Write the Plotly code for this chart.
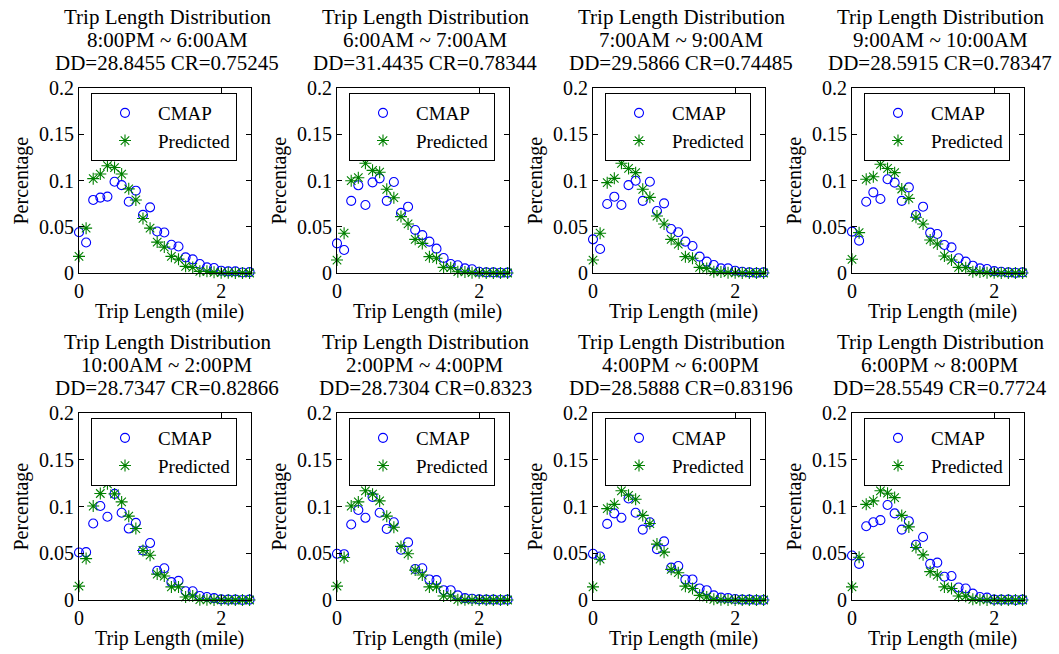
import plotly.graph_objects as go

W, H = 1059, 654

trip_length = [0.0, 0.1, 0.2, 0.3, 0.4, 0.5, 0.6, 0.7, 0.8, 0.9, 1.0, 1.1, 1.2,
               1.3, 1.4, 1.5, 1.6, 1.7, 1.8, 1.9, 2.0, 2.1, 2.2, 2.3, 2.4]

time_ranges = ["8:00PM ~ 6:00AM", "6:00AM ~ 7:00AM", "7:00AM ~ 9:00AM", "9:00AM ~ 10:00AM",
               "10:00AM ~ 2:00PM", "2:00PM ~ 4:00PM", "4:00PM ~ 6:00PM", "6:00PM ~ 8:00PM"]
dd_values = ["28.8455", "31.4435", "29.5866", "28.5915", "28.7347", "28.7304", "28.5888", "28.5549"]
cr_values = ["0.75245", "0.78344", "0.74485", "0.78347", "0.82866", "0.8323", "0.83196", "0.7724"]

cmap_8pm_6am = [0.044, 0.033, 0.079, 0.0815, 0.0826, 0.0987, 0.095, 0.077, 0.089, 0.0628, 0.071, 0.0449, 0.0438,
                0.0305, 0.0287, 0.0169, 0.0147, 0.0097, 0.0061, 0.0054, 0.0025, 0.0018, 0.0018, 0.0005, 0.001]
pred_8pm_6am = [0.018, 0.0485, 0.102, 0.107, 0.116, 0.114, 0.107, 0.091, 0.079, 0.059, 0.0485, 0.0334, 0.028,
                0.018, 0.015, 0.0072, 0.006, 0.0018, 0.0018, 0.0007, 0.0003, 0.0002, 0.0001, 0.0001, 0.0]

cmap_6am_7am = [0.032, 0.0249, 0.078, 0.0948, 0.0735, 0.098, 0.1023, 0.078, 0.0984, 0.065, 0.0717, 0.0465, 0.041,
                0.0339, 0.0263, 0.0162, 0.0097, 0.0083, 0.005, 0.004, 0.0014, 0.0007, 0.0007, 0.0002, 0.0004]
pred_6am_7am = [0.014, 0.043, 0.0998, 0.103, 0.1186, 0.111, 0.109, 0.0905, 0.0814, 0.061, 0.053, 0.0364, 0.032,
                0.0177, 0.0159, 0.0061, 0.0058, 0.0014, 0.0011, 0.0004, 0.0002, 0.0001, 0.0001, 0.0, 0.0]

cmap_7am_9am = [0.0364, 0.026, 0.0746, 0.0825, 0.0735, 0.095, 0.0998, 0.078, 0.0987, 0.067, 0.0753, 0.0476, 0.044,
                0.0339, 0.0292, 0.0177, 0.0123, 0.0086, 0.005, 0.005, 0.0025, 0.0014, 0.0007, 0.0002, 0.0007]
pred_7am_9am = [0.014, 0.043, 0.0977, 0.1023, 0.1186, 0.113, 0.1085, 0.0905, 0.0818, 0.0616, 0.053, 0.0364, 0.0313,
                0.0177, 0.0159, 0.0061, 0.005, 0.0014, 0.0011, 0.0004, 0.0002, 0.0001, 0.0001, 0.0, 0.0]

cmap_9am_10am = [0.0447, 0.035, 0.077, 0.0872, 0.08, 0.1013, 0.0977, 0.078, 0.0926, 0.0627, 0.0717, 0.0436, 0.0422,
                 0.0303, 0.0277, 0.0159, 0.0123, 0.0079, 0.005, 0.0043, 0.002, 0.0014, 0.0007, 0.0002, 0.0007]
pred_9am_10am = [0.0148, 0.0436, 0.1013, 0.104, 0.1175, 0.113, 0.1085, 0.0908, 0.0807, 0.0602, 0.053, 0.0357, 0.0313,
                 0.0184, 0.014, 0.0061, 0.0058, 0.0014, 0.0011, 0.0004, 0.0002, 0.0001, 0.0001, 0.0, 0.0]

cmap_10am_2pm = [0.0508, 0.0512, 0.0818, 0.1005, 0.089, 0.1135, 0.0933, 0.0764, 0.0825, 0.053, 0.0609, 0.0313, 0.0339,
                 0.0191, 0.0205, 0.0094, 0.0094, 0.0043, 0.0032, 0.002, 0.0007, 0.0004, 0.0004, 0.0, 0.0004]
pred_10am_2pm = [0.0148, 0.0443, 0.1005, 0.1139, 0.1243, 0.1135, 0.1049, 0.0897, 0.0764, 0.053, 0.0479, 0.0277, 0.0256,
                 0.014, 0.014, 0.0032, 0.0043, 0.0003, 0.0002, 0.0001, 0.0001, 0.0, 0.0, 0.0, 0.0]

cmap_2pm_4pm = [0.0494, 0.049, 0.0807, 0.0962, 0.0879, 0.1103, 0.0933, 0.076, 0.0832, 0.0537, 0.0616, 0.0332, 0.0339,
                0.022, 0.0213, 0.0105, 0.0105, 0.005, 0.002, 0.0014, 0.0007, 0.0004, 0.0004, 0.0, 0.0004]
pred_2pm_4pm = [0.0148, 0.0454, 0.1005, 0.1049, 0.1168, 0.1132, 0.106, 0.0897, 0.0778, 0.0573, 0.0494, 0.032, 0.0267,
                0.014, 0.014, 0.0043, 0.0043, 0.0003, 0.0002, 0.0001, 0.0001, 0.0, 0.0, 0.0, 0.0]

cmap_4pm_6pm = [0.0494, 0.0465, 0.0814, 0.0926, 0.0879, 0.1085, 0.0933, 0.0753, 0.0832, 0.0544, 0.0627, 0.0346, 0.0364,
                0.022, 0.022, 0.0123, 0.0105, 0.005, 0.0025, 0.0022, 0.0011, 0.0004, 0.0004, 0.0, 0.0]
pred_4pm_6pm = [0.014, 0.0436, 0.0977, 0.1023, 0.1168, 0.112, 0.1077, 0.0905, 0.0818, 0.0598, 0.0512, 0.0328, 0.0292,
                0.0148, 0.0123, 0.005, 0.0032, 0.0007, 0.0003, 0.0001, 0.0001, 0.0, 0.0, 0.0, 0.0]

cmap_6pm_8pm = [0.0476, 0.0386, 0.0789, 0.0832, 0.0854, 0.1016, 0.0926, 0.0753, 0.0843, 0.0591, 0.0674, 0.0386, 0.04,
                0.0249, 0.0256, 0.0133, 0.0123, 0.0068, 0.0032, 0.0025, 0.0004, 0.0004, 0.0004, 0.0, 0.0004]
pred_6pm_8pm = [0.014, 0.0458, 0.1023, 0.106, 0.1168, 0.1142, 0.1095, 0.0905, 0.0782, 0.0562, 0.0483, 0.0303, 0.0267,
                0.014, 0.0123, 0.0043, 0.004, 0.0007, 0.0003, 0.0001, 0.0001, 0.0, 0.0, 0.0, 0.0]

cmap_series = [cmap_8pm_6am, cmap_6am_7am, cmap_7am_9am, cmap_9am_10am,
               cmap_10am_2pm, cmap_2pm_4pm, cmap_4pm_6pm, cmap_6pm_8pm]
pred_series = [pred_8pm_6am, pred_6am_7am, pred_7am_9am, pred_9am_10am,
               pred_10am_2pm, pred_2pm_4pm, pred_4pm_6pm, pred_6pm_8pm]

y_ticks = [0, 0.05, 0.1, 0.15, 0.2]
y_ticktext = ["0", "0.05", "0.1", "0.15", "0.2"]
x_ticks = [0, 2]
x_ticktext = ["0", "2"]

FONT = "Liberation Serif"
FS = 20

# layout in pixels
col_left = [79, 337, 593, 852]
ax_w = 172
row_top = [88, 413]
row_bot = [273, 600]

fig = go.Figure()
annotations = []

def px_x(p):
    return p / W

def px_y(p):
    return 1 - p / H

for i in range(8):
    r, c = divmod(i, 4)
    n = i + 1
    xa = "x" if n == 1 else f"x{n}"
    ya = "y" if n == 1 else f"y{n}"
    lg = "legend" if n == 1 else f"legend{n}"
    L = col_left[c]
    R = L + ax_w
    T = row_top[r]
    B = row_bot[r]

    fig.add_trace(go.Scatter(
        x=trip_length, y=cmap_series[i], mode="markers", name="CMAP",
        marker=dict(symbol="circle-open", size=9, color="#0000ff", line=dict(width=1.1, color="#0000ff")),
        xaxis=xa, yaxis=ya, legend=lg, cliponaxis=False))
    fig.add_trace(go.Scatter(
        x=trip_length, y=pred_series[i], mode="markers", name="Predicted",
        marker=dict(symbol="asterisk-open", size=10, color="#008000", line=dict(width=1.1, color="#008000")),
        xaxis=xa, yaxis=ya, legend=lg, cliponaxis=False))

    axis_common = dict(showline=True, linecolor="black", linewidth=1, mirror="ticks",
                       ticks="inside", ticklen=5, tickcolor="black", showgrid=False, zeroline=False,
                       automargin=False,
                       tickfont=dict(family=FONT, size=FS, color="black"))
    fig.layout[("xaxis" if n == 1 else f"xaxis{n}")] = dict(
        domain=[px_x(L), px_x(R)], range=[0, 2.42], anchor=ya,
        tickvals=x_ticks, ticktext=x_ticktext, **axis_common)
    fig.layout[("yaxis" if n == 1 else f"yaxis{n}")] = dict(
        domain=[px_y(B), px_y(T)], range=[0, 0.2], anchor=xa,
        tickvals=y_ticks, ticktext=y_ticktext, **axis_common)

    fig.layout[lg] = dict(
        x=px_x(L + 12), y=px_y(T + 5), xanchor="left", yanchor="top",
        bgcolor="white", bordercolor="black", borderwidth=1,
        font=dict(family=FONT, size=19, color="black"),
        itemwidth=56, tracegroupgap=0)

    cx = px_x((L + R) / 2 + 2)
    lines = ["Trip Length Distribution", time_ranges[i], f"DD={dd_values[i]} CR={cr_values[i]}"]
    for k, txt in enumerate(lines):
        annotations.append(dict(text=txt, x=cx, y=px_y(T - 71 + 23 * k), xref="paper", yref="paper",
                                xanchor="center", yanchor="middle", showarrow=False,
                                font=dict(family=FONT, size=21, color="black")))
    annotations.append(dict(text="Trip Length (mile)", x=px_x((L + R) / 2 + 4), y=px_y(B + 38),
                            xref="paper", yref="paper", xanchor="center", yanchor="middle",
                            showarrow=False, font=dict(family=FONT, size=FS, color="black")))
    annotations.append(dict(text="Percentage", x=px_x(L - 58), y=px_y((T + B) / 2),
                            xref="paper", yref="paper", xanchor="center", yanchor="middle",
                            textangle=-90, showarrow=False, font=dict(family=FONT, size=FS, color="black")))

fig.update_layout(
    template="none",
    width=W, height=H, margin=dict(l=0, r=0, t=0, b=0, pad=0, autoexpand=False),
    paper_bgcolor="white", plot_bgcolor="white",
    font=dict(family=FONT, size=FS, color="black"),
    annotations=annotations, showlegend=True,
)

fig.write_html("out.html", config={"displayModeBar": False},
               post_script="document.body.style.margin='0';document.body.style.padding='0';")
